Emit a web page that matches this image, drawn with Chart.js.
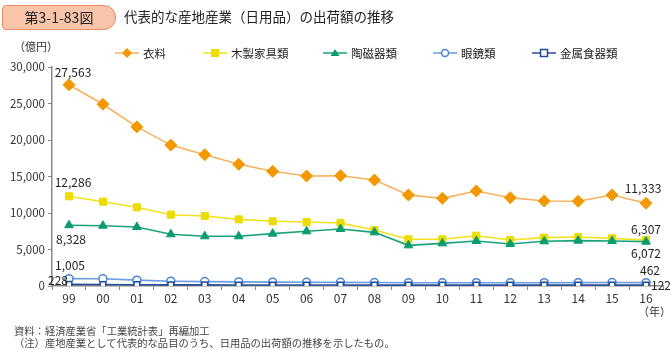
<!DOCTYPE html>
<html>
<head>
<meta charset="utf-8">
<script src="https://cdn.jsdelivr.net/npm/chart.js@4"></script>
<style>
  body { margin: 0; width: 670px; height: 350px; background: #fff; font-family: "Noto Sans CJK JP", sans-serif; color: #222; overflow: hidden; }
  #wrap { position: relative; width: 670px; height: 350px; }
  #chart { position: absolute; left: 0; top: 0; }
  .abs { position: absolute; white-space: nowrap; }
  #badge { left: 2px; top: 5px; width: 112px; height: 23px; background: #f8c4aa; border: 1px solid #ee8b5e; border-radius: 4px 12px 12px 4px; font-size: 14px; line-height: 23px; text-align: center; color: #222; }
  #title { left: 124px; top: 5px; font-size: 13.5px; line-height: 23px; color: #222; }
  #unit { left: 14px; top: 38px; font-size: 11px; color: #333; }
  #legend .item { position: absolute; top: 45px; font-size: 11.5px; line-height: 16px; display: flex; align-items: center; }
  #legend svg { margin-right: 4px; }
  #year { left: 638px; top: 303px; font-size: 11px; color: #333; }
  #note { left: 14px; top: 325px; font-size: 10.3px; line-height: 12px; color: #444; }
</style>
</head>
<body>
<div id="wrap">
  <canvas id="chart" width="670" height="350"></canvas>
  <div id="badge" class="abs">第3-1-83図</div>
  <div id="title" class="abs">代表的な産地産業（日用品）の出荷額の推移</div>
  <div id="unit" class="abs">（億円）</div>
  <div id="legend"></div>
  <div id="year" class="abs">（年）</div>
  <div id="note" class="abs">資料：経済産業省「工業統計表」再編加工<br>（注）産地産業として代表的な品目のうち、日用品の出荷額の推移を示したもの。</div>
</div>
<script>
const years = ['99','00','01','02','03','04','05','06','07','08','09','10','11','12','13','14','15','16'];
const seriesNames = ['衣料', '木製家具類', '陶磁器類', '眼鏡類', '金属食器類'];

const clothing = [27563, 24900, 21800, 19300, 17990, 16670, 15710, 15070, 15110, 14520, 12470, 12010, 13010, 12100, 11640, 11600, 12470, 11333];
const furniture = [12286, 11550, 10780, 9770, 9590, 9130, 8860, 8770, 8630, 7670, 6400, 6400, 6890, 6300, 6620, 6710, 6530, 6307];
const ceramics = [8328, 8260, 8080, 7080, 6810, 6810, 7170, 7490, 7810, 7350, 5570, 5840, 6160, 5750, 6120, 6210, 6160, 6072];
const eyeglasses = [1005, 990, 800, 660, 600, 560, 530, 510, 500, 480, 440, 440, 450, 440, 450, 460, 470, 462];
const tableware = [228, 200, 180, 160, 150, 140, 130, 130, 130, 125, 115, 115, 120, 118, 120, 120, 122, 122];

const yTicks = [0, 5000, 10000, 15000, 20000, 25000, 30000];

// look of each series: line colour, marker colour, marker fill, point style, radius
const looks = [
  { line: '#f8b25e', mark: '#f39800', fill: '#f39800', style: 'rectRot', r: 6 },
  { line: '#f2e21e', mark: '#ecdc00', fill: '#ecdc00', style: 'rect', r: 5 },
  { line: '#1aa37a', mark: '#0a9b6e', fill: '#0a9b6e', style: 'triangle', r: 5 },
  { line: '#6c9de0', mark: '#4a84d0', fill: '#ffffff', style: 'circle', r: 4 },
  { line: '#2b4f96', mark: '#1d4b9a', fill: '#ffffff', style: 'rect', r: 4 }
];
const values = [clothing, furniture, ceramics, eyeglasses, tableware];

// which points get a value label and where it sits
const labelSpots = [
  { ds: 0, i: 0, dx: 4, dy: -12, align: 'center' },
  { ds: 1, i: 0, dx: 4, dy: -14, align: 'center' },
  { ds: 2, i: 0, dx: 2, dy: 14, align: 'center' },
  { ds: 3, i: 0, dx: 1, dy: -13, align: 'center' },
  { ds: 4, i: 0, dx: -1, dy: -4, align: 'right' },
  { ds: 0, i: 17, dx: -3, dy: -15, align: 'center' },
  { ds: 1, i: 17, dx: 0, dy: -11, align: 'center' },
  { ds: 2, i: 17, dx: 0, dy: 12, align: 'center' },
  { ds: 3, i: 17, dx: 4, dy: -12, align: 'center' },
  { ds: 4, i: 17, dx: 5, dy: 0, align: 'left' }
];

const valueLabels = {
  id: 'valueLabels',
  afterDatasetsDraw(chart) {
    const ctx = chart.ctx;
    ctx.save();
    ctx.font = '12px "Noto Sans CJK JP", sans-serif';
    ctx.fillStyle = '#222';
    ctx.textBaseline = 'middle';
    labelSpots.forEach(s => {
      const pt = chart.getDatasetMeta(s.ds).data[s.i];
      const v = chart.data.datasets[s.ds].data[s.i];
      ctx.textAlign = s.align;
      ctx.fillText(v.toLocaleString('en-US'), pt.x + s.dx, pt.y + s.dy);
    });
    ctx.restore();
  }
};

// legend in html
const legend = document.getElementById('legend');
const legendX = [115, 203, 323, 433, 532];
seriesNames.forEach((name, k) => {
  const lk = looks[k];
  let mark = '';
  if (lk.style === 'rectRot') mark = `<polygon points="12,2 17,7 12,12 7,7" fill="${lk.fill}"/>`;
  else if (lk.style === 'triangle') mark = `<polygon points="12,3 16.5,10 7.5,10" fill="${lk.fill}"/>`;
  else if (lk.style === 'circle') mark = `<circle cx="12" cy="7" r="3.5" fill="#fff" stroke="${lk.mark}" stroke-width="1.5"/>`;
  else if (k === 1) mark = `<rect x="8" y="3" width="8" height="8" fill="${lk.fill}"/>`;
  else mark = `<rect x="8.5" y="3.5" width="7" height="7" fill="#fff" stroke="${lk.mark}" stroke-width="1.5"/>`;
  const el = document.createElement('div');
  el.className = 'item';
  el.style.left = legendX[k] + 'px';
  el.innerHTML = `<svg width="24" height="14"><line x1="0" y1="7" x2="24" y2="7" stroke="${lk.line}" stroke-width="1.5"/>${mark}</svg>${name}`;
  legend.appendChild(el);
});

new Chart(document.getElementById('chart'), {
  type: 'line',
  data: {
    labels: years,
    datasets: seriesNames.map((name, k) => ({
      label: name,
      data: values[k],
      borderColor: looks[k].line,
      borderWidth: 1.6,
      pointStyle: looks[k].style,
      pointRadius: looks[k].r,
      pointBackgroundColor: looks[k].fill,
      pointBorderColor: looks[k].mark,
      pointBorderWidth: looks[k].fill === '#ffffff' ? 1.5 : 1,
      tension: 0,
      order: 5 - k
    }))
  },
  options: {
    responsive: false,
    animation: false,
    layout: { padding: { left: 0, right: 3, top: 67, bottom: 44 } },
    plugins: { legend: { display: false }, tooltip: { enabled: false } },
    scales: {
      x: {
        offset: true,
        grid: { display: true, drawOnChartArea: false, offset: true, tickLength: 4, color: '#888' },
        border: { color: '#888', width: 1.5 },
        ticks: { color: '#333', padding: 1, font: { size: 12, family: '"Noto Sans CJK JP", sans-serif' } },
        afterFit(scale) { scale.height = 20; }
      },
      y: {
        min: 0,
        max: 30000,
        afterBuildTicks(scale) { scale.ticks = yTicks.map(v => ({ value: v })); },
        grid: { display: true, drawOnChartArea: false, tickLength: 4, color: '#888' },
        border: { color: '#888', width: 1.5 },
        ticks: {
          color: '#333',
          padding: 3,
          font: { size: 11.5, family: '"Noto Sans CJK JP", sans-serif' },
          callback: v => v.toLocaleString('en-US')
        },
        afterFit(scale) { scale.width = 52; }
      }
    }
  },
  plugins: [valueLabels]
});
</script>
</body>
</html>
